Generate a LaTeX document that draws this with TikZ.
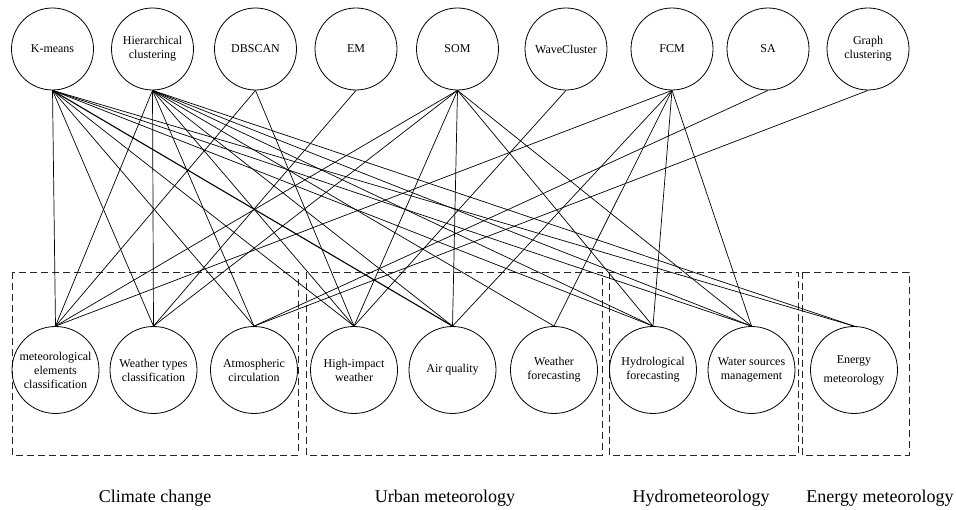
\documentclass[tikz,border=0pt]{standalone}
\usepackage{fontspec}
\setmainfont{Liberation Serif}
\begin{document}
\begin{tikzpicture}[x=1pt,y=-1pt,
  topnode/.style={circle,draw,line width=0.8pt,minimum size=82pt,inner sep=0pt,align=center,font=\fontsize{12}{14}\selectfont},
  botnode/.style={circle,draw,line width=0.8pt,minimum size=87pt,inner sep=0pt,align=center,font=\fontsize{12}{14}\selectfont},
  grp/.style={draw=black!85,line width=0.8pt,dash pattern=on 7pt off 4pt},
  lbl/.style={font=\fontsize{18}{20}\selectfont,inner sep=0pt},
  link/.style={line width=0.7pt}]
\useasboundingbox (0,0) rectangle (956,510);
% group boxes
\draw[grp] (12,272) rectangle (298,455);
\draw[grp] (306,272) rectangle (602,455);
\draw[grp] (609,272) rectangle (798,455);
\draw[grp] (802,272) rectangle (909,455);
% top nodes
\node[topnode] (K) at (52.5,49) {K-means};
\node[topnode] (H) at (152.5,49) {Hierarchical\\clustering};
\node[topnode] (D) at (255.5,49) {DBSCAN};
\node[topnode] (EM) at (356,49) {EM};
\node[topnode] (SOM) at (457.5,49) {SOM};
\node[topnode] (WC) at (566,49) {WaveCluster};
\node[topnode] (FCM) at (672,49) {FCM};
\node[topnode] (SA) at (768,49) {SA};
\node[topnode] (G) at (868,49) {Graph\\clustering};
% bottom nodes
\node[botnode] (met) at (55.5,370) {meteorological\\elements\\classification};
\node[botnode] (WT) at (153.5,370) {Weather types\\classification};
\node[botnode] (AC) at (254,370) {Atmospheric\\circulation};
\node[botnode] (HI) at (354,370) {High-impact\\weather};
\node[botnode] (AQ) at (452.5,370) {Air quality};
\node[botnode] (WF) at (554,370) {Weather\\forecasting};
\node[botnode] (HF) at (653,370) {Hydrological\\forecasting};
\node[botnode] (WS) at (751.5,370) {Water sources\\management};
\node[botnode] (EN) at (854,370) {Energy\\[5pt]meteorology};
% group labels
\node[lbl] (l1) at (155,498) {Climate change};
\node[lbl] (l2) at (445,498) {Urban meteorology};
\node[lbl] (l3) at (701,498) {Hydrometeorology};
\node[lbl] (l4) at (880,498) {Energy meteorology};
% connectors
\foreach \b in {met,WT,AC,HI,HF,WS,EN} \draw[link] (K.south) -- (\b.north);
\draw[link,line width=1.1pt] (K.south) -- (AQ.north);
\foreach \b in {met,WT,AC,HI,AQ,WF,HF,WS,EN} \draw[link] (H.south) -- (\b.north);
\foreach \b in {met,HI} \draw[link] (D.south) -- (\b.north);
\draw[link] (EM.south) -- (WT.north);
\foreach \b in {met,WT,HI,AQ,HF,WS} \draw[link] (SOM.south) -- (\b.north);
\draw[link] (WC.south) -- (HI.north);
\foreach \b in {met,AQ,WF,HF,WS} \draw[link] (FCM.south) -- (\b.north);
\draw[link] (SA.south) -- (AC.north);
\draw[link] (G.south) -- (AC.north);
\end{tikzpicture}
\end{document}
